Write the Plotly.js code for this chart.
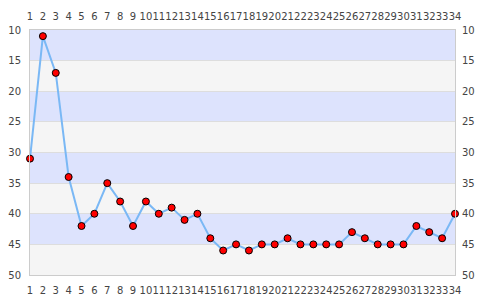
<!DOCTYPE html>
<html><head><meta charset="utf-8">
<script src="https://cdn.plot.ly/plotly-3.0.1.min.js"></script>
<style>html,body{margin:0;padding:0;background:#fff}#chart{width:485px;height:300px}</style>
</head><body><div id="chart"></div>
<script>
const xValues = [1,2,3,4,5,6,7,8,9,10,11,12,13,14,15,16,17,18,19,20,21,22,23,24,25,26,27,28,29,30,31,32,33,34];
const yValues = [31,11,17,34,42,40,35,38,42,38,40,39,41,40,44,46,45,46,45,45,44,45,45,45,45,43,44,45,45,45,42,43,44,40];
const yTicks = [10,15,20,25,30,35,40,45,50];

const bandBlue = 'rgb(221,227,253)';
const bandGray = 'rgb(245,245,245)';
const shapes = [];
for (let i = 0; i < yTicks.length - 1; i++) {
  shapes.push({type:'rect', xref:'paper', yref:'y', x0:0, x1:1, y0:yTicks[i], y1:yTicks[i+1],
    fillcolor: i % 2 === 0 ? bandBlue : bandGray, line:{width:0}, layer:'below'});
}

const font = {family:'DejaVu Sans, sans-serif', size:10, color:'#444'};
const trace = {x:xValues, y:yValues, type:'scatter', mode:'lines+markers',
  line:{color:'rgb(122,184,245)', width:2},
  marker:{color:'red', size:7, line:{color:'black', width:1}}, cliponaxis:false};
const trace2 = {x:xValues, y:yValues, xaxis:'x2', yaxis:'y2', type:'scatter', mode:'none', hoverinfo:'skip', showlegend:false};

const layout = {
  width:485, height:300, margin:{l:30, r:30, t:30, b:25},
  paper_bgcolor:'#fff', plot_bgcolor:'#fff', showlegend:false, font:font,
  shapes:shapes,
  xaxis:{range:[1,34], tickvals:xValues, ticktext:xValues.map(String), tickangle:0, showgrid:false, zeroline:false,
    showline:true, linecolor:'#ccc', linewidth:1, mirror:true, ticks:'', ticklabelstandoff:6, tickfont:font},
  xaxis2:{range:[1,34], overlaying:'x', side:'top', tickvals:xValues, ticktext:xValues.map(String), tickangle:0,
    showgrid:false, zeroline:false, ticks:'', ticklabelstandoff:7, tickfont:font},
  yaxis:{range:[50,10], tickvals:yTicks, showgrid:true, gridcolor:'#ddd', zeroline:false, showline:true, linecolor:'#ccc',
    mirror:true, ticks:'', ticklabelstandoff:6, tickfont:font},
  yaxis2:{range:[50,10], overlaying:'y', side:'right', tickvals:yTicks, showgrid:false, zeroline:false, ticks:'',
    ticklabelstandoff:6, tickfont:font}
};
Plotly.newPlot('chart', [trace2, trace], layout, {staticPlot:true});
</script></body></html>
